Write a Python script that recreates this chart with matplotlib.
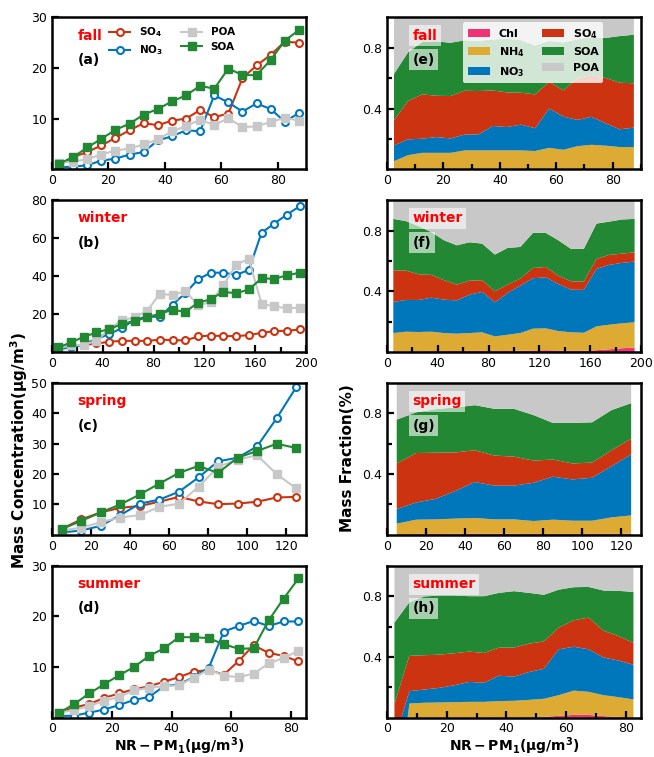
import numpy as np
import matplotlib
matplotlib.use('Agg')
import matplotlib.pyplot as plt
from matplotlib.ticker import MultipleLocator

plt.rcParams['font.family'] = 'DejaVu Sans'
plt.rcParams['mathtext.default'] = 'bf'

# ---------------- data ----------------
seasons = ['fall', 'winter', 'spring', 'summer']
left_tags = ['(a)', '(b)', '(c)', '(d)']
right_tags = ['(e)', '(f)', '(g)', '(h)']

# NR-PM1 bin centres
x_fall = [2.5, 7.5, 12.5, 17.5, 22.5, 27.5, 32.5, 37.5, 42.5, 47.5, 52.5, 57.5, 62.5, 67.5, 72.5, 77.5, 82.5, 87.5]
x_winter = [5, 15, 25, 35, 45, 55, 65, 75, 85, 95, 105, 115, 125, 135, 145, 155, 165, 175, 185, 195]
x_spring = [5, 15, 25, 35, 45, 55, 65, 75, 85, 95, 105, 115, 125]
x_summer = [2.5, 7.5, 12.5, 17.5, 22.5, 27.5, 32.5, 37.5, 42.5, 47.5, 52.5, 57.5, 62.5, 67.5, 72.5, 77.5, 82.5]

# mass concentrations (ug/m3)
so4_fall = [0.8, 2.4, 3.4, 4.7, 6.2, 7.7, 9.1, 8.7, 9.6, 10.0, 11.7, 10.3, 11.0, 18.0, 20.5, 22.6, 25.2, 25.0]
no3_fall = [0.4, 0.5, 0.8, 1.7, 2.1, 2.9, 3.4, 5.7, 6.5, 7.7, 7.5, 14.6, 13.2, 11.4, 13.0, 11.9, 9.4, 11.1]
poa_fall = [1.3, 1.5, 2.0, 2.9, 3.7, 4.1, 4.9, 5.9, 7.5, 8.5, 9.8, 8.7, 10.1, 8.3, 8.5, 9.3, 10.2, 9.6]
soa_fall = [1.1, 2.4, 4.3, 6.0, 7.8, 9.0, 10.8, 11.9, 13.4, 14.6, 16.5, 15.9, 19.9, 18.6, 18.6, 21.6, 25.4, 27.5]

so4_winter = [2.4, 3.0, 3.7, 4.5, 5.4, 5.9, 5.9, 5.9, 6.5, 6.3, 6.1, 8.2, 8.7, 8.4, 8.4, 8.9, 10.1, 11.0, 11.2, 11.9]
no3_winter = [1.5, 2.5, 4.0, 7.0, 9.4, 12.6, 17.0, 18.7, 18.5, 25.0, 31.0, 38.3, 41.8, 41.8, 40.7, 43.2, 62.8, 67.7, 72.4, 76.8]
poa_winter = [2.0, 3.5, 3.8, 6.0, 12.0, 16.8, 18.2, 21.7, 30.8, 29.9, 32.2, 24.6, 26.4, 35.1, 46.1, 49.1, 25.5, 24.0, 23.1, 23.4]
soa_winter = [2.4, 5.1, 8.0, 10.3, 12.1, 14.7, 16.4, 18.2, 20.3, 22.2, 21.2, 26.0, 27.8, 31.8, 30.9, 33.0, 38.8, 38.6, 40.4, 41.8]

so4_spring = [2.0, 5.1, 7.4, 8.9, 9.5, 10.9, 12.5, 11.0, 10.1, 10.3, 10.9, 12.3, 12.5]
no3_spring = [0.8, 1.4, 3.0, 6.5, 10.3, 11.6, 14.2, 18.9, 24.2, 25.4, 29.1, 38.4, 48.6]
poa_spring = [1.5, 2.3, 4.2, 5.7, 6.5, 9.2, 10.3, 15.8, 22.4, 24.8, 26.2, 20.0, 15.3]
soa_spring = [1.9, 4.6, 7.4, 10.0, 13.3, 16.9, 20.4, 22.7, 20.4, 25.4, 27.6, 30.0, 28.6]

so4_summer = [1.0, 2.0, 2.7, 3.9, 4.8, 5.6, 6.2, 7.1, 8.0, 9.1, 9.4, 8.5, 11.2, 14.3, 12.8, 12.2, 11.1]
no3_summer = [0.3, 0.4, 1.0, 1.6, 2.5, 3.5, 4.1, 6.2, 6.6, 8.0, 9.9, 17.0, 18.1, 19.1, 18.1, 19.0, 19.0]
poa_summer = [1.0, 1.5, 2.3, 3.3, 4.1, 5.4, 5.9, 6.2, 6.4, 7.9, 9.5, 8.3, 8.0, 8.7, 10.7, 11.8, 13.2]
soa_summer = [1.0, 2.7, 4.8, 6.6, 8.4, 10.0, 12.2, 13.7, 15.9, 15.9, 15.7, 14.5, 13.6, 13.7, 19.2, 23.5, 27.5]

# mass fractions
chl_f_fall = [0.004, 0.004, 0.004, 0.004, 0.004, 0.004, 0.004, 0.004, 0.004, 0.004, 0.004, 0.004, 0.004, 0.004, 0.004, 0.004, 0.004, 0.004]
nh4_f_fall = [0.049, 0.089, 0.104, 0.104, 0.104, 0.12, 0.12, 0.12, 0.12, 0.12, 0.116, 0.137, 0.124, 0.148, 0.157, 0.151, 0.142, 0.142]
no3_f_fall = [0.104, 0.104, 0.093, 0.104, 0.095, 0.104, 0.106, 0.161, 0.154, 0.17, 0.15, 0.259, 0.219, 0.173, 0.184, 0.148, 0.117, 0.128]
so4_f_fall = [0.166, 0.253, 0.292, 0.272, 0.279, 0.289, 0.285, 0.234, 0.228, 0.21, 0.223, 0.175, 0.172, 0.274, 0.276, 0.298, 0.307, 0.292]
soa_f_fall = [0.305, 0.321, 0.345, 0.358, 0.351, 0.332, 0.33, 0.336, 0.354, 0.346, 0.322, 0.27, 0.316, 0.256, 0.249, 0.264, 0.307, 0.32]
poa_f_fall = [0.372, 0.229, 0.162, 0.158, 0.167, 0.151, 0.155, 0.145, 0.14, 0.15, 0.185, 0.155, 0.165, 0.145, 0.13, 0.135, 0.123, 0.114]

chl_f_winter = [0.003, 0.004, 0.005, 0.006, 0.006, 0.007, 0.008, 0.008, 0.006, 0.007, 0.008, 0.01, 0.012, 0.01, 0.008, 0.008, 0.012, 0.018, 0.025, 0.03]
nh4_f_winter = [0.122, 0.13, 0.127, 0.128, 0.119, 0.114, 0.117, 0.122, 0.097, 0.107, 0.117, 0.144, 0.144, 0.128, 0.122, 0.119, 0.157, 0.162, 0.164, 0.166]
no3_f_winter = [0.205, 0.209, 0.211, 0.224, 0.22, 0.219, 0.253, 0.266, 0.224, 0.275, 0.312, 0.332, 0.336, 0.31, 0.281, 0.282, 0.378, 0.394, 0.398, 0.4]
so4_f_winter = [0.208, 0.193, 0.169, 0.15, 0.128, 0.104, 0.092, 0.077, 0.073, 0.055, 0.047, 0.068, 0.068, 0.055, 0.055, 0.055, 0.066, 0.066, 0.061, 0.061]
soa_f_winter = [0.339, 0.326, 0.317, 0.281, 0.263, 0.259, 0.253, 0.241, 0.242, 0.242, 0.208, 0.231, 0.225, 0.233, 0.213, 0.215, 0.233, 0.219, 0.225, 0.22]
poa_f_winter = [0.123, 0.138, 0.171, 0.211, 0.264, 0.297, 0.277, 0.286, 0.358, 0.314, 0.308, 0.215, 0.215, 0.264, 0.321, 0.321, 0.154, 0.141, 0.127, 0.123]

chl_f_spring = [0.005, 0.006, 0.006, 0.007, 0.008, 0.007, 0.007, 0.006, 0.006, 0.006, 0.006, 0.007, 0.008]
nh4_f_spring = [0.069, 0.094, 0.096, 0.1, 0.103, 0.095, 0.095, 0.085, 0.094, 0.087, 0.087, 0.108, 0.12]
no3_f_spring = [0.096, 0.113, 0.135, 0.182, 0.237, 0.222, 0.222, 0.252, 0.283, 0.272, 0.283, 0.337, 0.402]
so4_f_spring = [0.3, 0.326, 0.304, 0.254, 0.209, 0.198, 0.191, 0.146, 0.113, 0.105, 0.1, 0.105, 0.103]
soa_f_spring = [0.289, 0.268, 0.287, 0.296, 0.297, 0.308, 0.315, 0.3, 0.241, 0.267, 0.265, 0.265, 0.234]
poa_f_spring = [0.241, 0.193, 0.172, 0.161, 0.146, 0.17, 0.17, 0.211, 0.263, 0.263, 0.259, 0.178, 0.133]

chl_f_summer = [0.0, 0.002, 0.002, 0.002, 0.002, 0.002, 0.002, 0.003, 0.003, 0.004, 0.005, 0.012, 0.018, 0.018, 0.01, 0.005, 0.003]
nh4_f_summer = [-0.7, 0.091, 0.096, 0.098, 0.1, 0.102, 0.102, 0.106, 0.108, 0.113, 0.119, 0.136, 0.16, 0.152, 0.138, 0.13, 0.117]
no3_f_summer = [0.55, 0.081, 0.087, 0.096, 0.111, 0.131, 0.126, 0.167, 0.159, 0.183, 0.198, 0.302, 0.289, 0.28, 0.248, 0.241, 0.228]
so4_f_summer = [0.24, 0.233, 0.226, 0.219, 0.211, 0.2, 0.196, 0.185, 0.191, 0.187, 0.18, 0.143, 0.174, 0.209, 0.176, 0.161, 0.145]
soa_f_summer = [0.536, 0.353, 0.387, 0.389, 0.38, 0.365, 0.374, 0.361, 0.372, 0.335, 0.307, 0.25, 0.218, 0.202, 0.265, 0.298, 0.335]
poa_f_summer = [0.374, 0.24, 0.202, 0.196, 0.196, 0.2, 0.2, 0.178, 0.167, 0.178, 0.191, 0.157, 0.141, 0.139, 0.163, 0.165, 0.172]

# axis settings per season
xlims = [90, 200, 130, 85]
xmajor = [20, 40, 20, 20]
xminor_left = [None, 20, None, None]
xminor_right = [10, 20, 20, 10]
yticks_left = [[10, 20, 30], [20, 40, 60, 80], [10, 20, 30, 40, 50], [10, 20, 30]]

# colours
RED = '#cc3311'
BLUE = '#0077bb'
GREEN = '#228833'
GRAY = '#c8c8c8'
PINK = '#ee3377'
GOLD = '#ddaa33'

conc = {
    'fall': (x_fall, so4_fall, no3_fall, poa_fall, soa_fall),
    'winter': (x_winter, so4_winter, no3_winter, poa_winter, soa_winter),
    'spring': (x_spring, so4_spring, no3_spring, poa_spring, soa_spring),
    'summer': (x_summer, so4_summer, no3_summer, poa_summer, soa_summer),
}
frac = {
    'fall': (chl_f_fall, nh4_f_fall, no3_f_fall, so4_f_fall, soa_f_fall, poa_f_fall),
    'winter': (chl_f_winter, nh4_f_winter, no3_f_winter, so4_f_winter, soa_f_winter, poa_f_winter),
    'spring': (chl_f_spring, nh4_f_spring, no3_f_spring, so4_f_spring, soa_f_spring, poa_f_spring),
    'summer': (chl_f_summer, nh4_f_summer, no3_f_summer, so4_f_summer, soa_f_summer, poa_f_summer),
}


def style_axis(ax):
    for sp in ax.spines.values():
        sp.set_linewidth(1.8)
    ax.tick_params(which='major', direction='in', length=5, width=1.6, labelsize=9)
    ax.tick_params(which='minor', direction='in', length=3.5, width=1.6)


fig, axes = plt.subplots(4, 2, figsize=(6.54, 7.57), dpi=100)
plt.subplots_adjust(left=0.0795, right=0.98, top=0.977, bottom=0.052, hspace=0.204, wspace=0.319)

for i, season in enumerate(seasons):
    # ---- left: concentrations ----
    ax = axes[i, 0]
    x, so4, no3, poa, soa = conc[season]
    ax.plot(x, so4, '-o', color=RED, mfc='white', mew=1.5, ms=5, lw=1.5, label='SO$_4$')
    ax.plot(x, no3, '-o', color=BLUE, mfc='white', mew=1.5, ms=5, lw=1.5, label='NO$_3$')
    ax.plot(x, poa, '-s', color=GRAY, ms=6, lw=1.5, label='POA')
    ax.plot(x, soa, '-s', color=GREEN, ms=6, lw=1.5, label='SOA')
    ax.set_xlim(0, xlims[i])
    ax.set_ylim(0, yticks_left[i][-1])
    ax.xaxis.set_major_locator(MultipleLocator(xmajor[i]))
    if xminor_left[i]:
        ax.xaxis.set_minor_locator(MultipleLocator(xminor_left[i]))
    ax.set_yticks(yticks_left[i])
    style_axis(ax)
    ax.text(0.1, 0.88, season, color='red', fontsize=10, fontweight='bold',
            transform=ax.transAxes, va='center')
    ax.text(0.1, 0.72, left_tags[i], color='black', fontsize=10, fontweight='bold',
            transform=ax.transAxes, va='center')
    if i == 0:
        ax.legend(loc='upper left', bbox_to_anchor=(0.21, 0.975), borderaxespad=0,
                  ncol=2, frameon=False, prop={'weight': 'bold', 'size': 7.5},
                  columnspacing=1.8, labelspacing=0.4)

    # ---- right: stacked fractions ----
    ax = axes[i, 1]
    chl, nh4, no3f, so4f, soaf, poaf = frac[season]
    ax.stackplot(x, chl, nh4, no3f, so4f, soaf, poaf,
                 colors=[PINK, GOLD, BLUE, RED, GREEN, GRAY],
                 labels=['Chl', 'NH$_4$', 'NO$_3$', 'SO$_4$', 'SOA', 'POA'], lw=0)
    ax.set_xlim(0, xlims[i])
    ax.set_ylim(0, 1.0)
    ax.xaxis.set_major_locator(MultipleLocator(xmajor[i]))
    ax.xaxis.set_minor_locator(MultipleLocator(xminor_right[i]))
    ax.set_yticks([0.4, 0.8])
    ax.set_yticks([0.2, 0.6], minor=True)
    style_axis(ax)
    box = dict(facecolor='white', alpha=0.6, edgecolor='none', pad=2.5)
    ax.text(0.1, 0.88, season, color='red', fontsize=10, fontweight='bold',
            transform=ax.transAxes, va='center', bbox=box)
    ax.text(0.1, 0.72, right_tags[i], color='black', fontsize=10, fontweight='bold',
            transform=ax.transAxes, va='center', bbox=box)
    if i == 0:
        ax.legend(loc='upper left', bbox_to_anchor=(0.30, 0.967), borderaxespad=0,
                  ncol=2, framealpha=0.8, edgecolor='none',
                  prop={'weight': 'bold', 'size': 8}, columnspacing=1.6, labelspacing=0.55)

axes[3, 0].set_xlabel(r'$NR-PM_1(\mu g/m^3)$', fontsize=10, labelpad=0)
axes[3, 1].set_xlabel(r'$NR-PM_1(\mu g/m^3)$', fontsize=10, labelpad=0)
fig.text(0.03, 0.405, 'Mass Concentration(μg/m$^3$)', rotation=90, fontsize=11,
         fontweight='bold', ha='center', va='center')
fig.text(0.531, 0.395, 'Mass Fraction(%)', rotation=90, fontsize=11,
         fontweight='bold', ha='center', va='center')

plt.savefig('out.png', dpi=100)
